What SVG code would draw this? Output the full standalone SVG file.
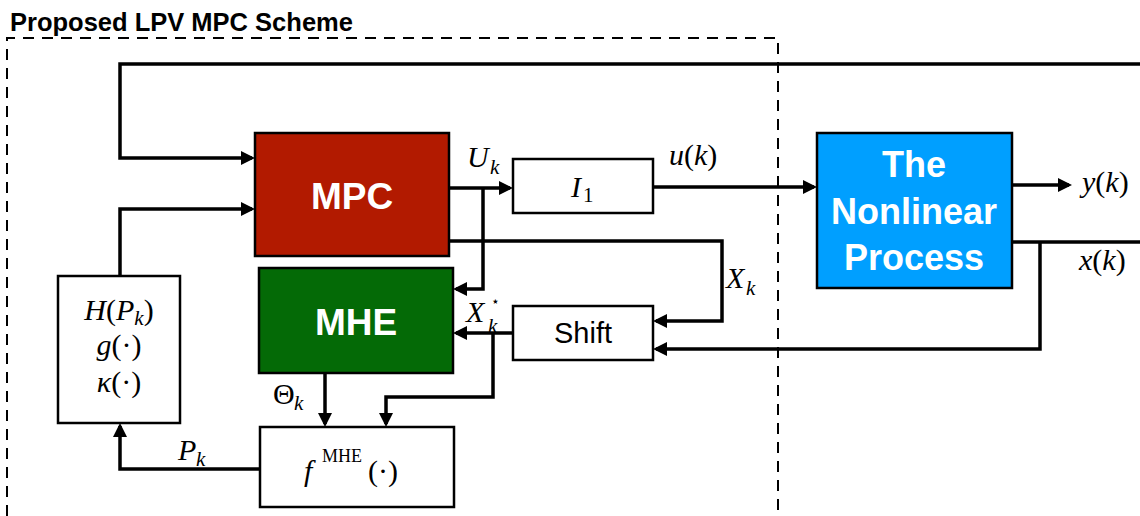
<svg xmlns="http://www.w3.org/2000/svg" width="1140" height="516" viewBox="0 0 1140 516">
<style>
.box{stroke:#000;stroke-width:2.5}
.w{fill:#fff}
.c{fill:none;stroke:#000;stroke-width:3.5}
.lbl{font-family:"Liberation Sans",Arial,sans-serif;font-weight:bold;fill:#fff;text-anchor:middle}
.m{font-family:"Liberation Serif","DejaVu Serif",serif;font-size:30px;fill:#000}
.i{font-style:italic}
.s{font-size:21px}
.sup{font-size:18px}
</style>
<defs>
<marker id="ah" markerUnits="userSpaceOnUse" markerWidth="15" markerHeight="15" refX="11" refY="7" orient="auto">
<path d="M0,0 L14,7 L0,14 z" fill="#000"/>
</marker>
</defs>
<rect width="1140" height="516" fill="#fff"/>
<g id="scheme">
<path d="M7 516 V38 H778 V516" fill="none" stroke="#000" stroke-width="2" stroke-dasharray="11 8"/>
<text x="10" y="31" font-family="Liberation Sans,Arial,sans-serif" font-weight="bold" font-size="25.5">Proposed LPV MPC Scheme</text>
</g>
<g id="connectors">
<path class="c" d="M1140 64 H120 V158 H252" marker-end="url(#ah)"/>
<path class="c" d="M120 276 V209 H252" marker-end="url(#ah)"/>
<path class="c" d="M449 188 H510" marker-end="url(#ah)"/>
<path class="c" d="M483 188 V289 H456" marker-end="url(#ah)"/>
<path class="c" d="M653 187 H814" marker-end="url(#ah)"/>
<path class="c" d="M449 241 H722 V321 H656" marker-end="url(#ah)"/>
<path class="c" d="M1012 185 H1069" marker-end="url(#ah)"/>
<path class="c" d="M1012 242 H1140"/>
<path class="c" d="M1040 242 V349 H656" marker-end="url(#ah)"/>
<path class="c" d="M513 333 H456" marker-end="url(#ah)"/>
<path class="c" d="M493 333 V397 H386 V424" marker-end="url(#ah)"/>
<path class="c" d="M325 373 V424" marker-end="url(#ah)"/>
<path class="c" d="M260 469 H120 V426" marker-end="url(#ah)"/>
</g>
<g id="mpc">
<rect class="box" x="255" y="133" width="194" height="123" fill="#B21A00"/>
<text class="lbl" x="352" y="209" font-size="37">MPC</text>
</g>
<g id="mhe">
<rect class="box" x="259" y="268" width="194" height="105" fill="#046A06"/>
<text class="lbl" x="356" y="335" font-size="37">MHE</text>
</g>
<g id="process">
<rect class="box" x="817" y="133" width="195" height="155" fill="#009FFF"/>
<text class="lbl" x="914" y="177" font-size="36">The</text>
<text class="lbl" x="914" y="224" font-size="36">Nonlinear</text>
<text class="lbl" x="914" y="270" font-size="36">Process</text>
</g>
<g id="i1">
<rect class="box w" x="513" y="159" width="140" height="54"/>
<text class="m i" x="571" y="197">I</text>
<text class="m s" x="583" y="202">1</text>
</g>
<g id="shift">
<rect class="box w" x="513" y="306" width="140" height="54"/>
<text x="583" y="343" font-family="Liberation Sans,Arial,sans-serif" font-size="29" text-anchor="middle">Shift</text>
</g>
<g id="hbox">
<rect class="box w" x="58" y="276" width="122" height="147"/>
<text class="m" x="119" y="320" text-anchor="middle"><tspan class="i">H</tspan>(<tspan class="i">P</tspan><tspan class="i s" dy="5">k</tspan><tspan dy="-5">)</tspan></text>
<text class="m" x="119" y="355" text-anchor="middle"><tspan class="i">g</tspan>(·)</text>
<text class="m" x="119" y="392" text-anchor="middle"><tspan class="i">κ</tspan>(·)</text>
</g>
<g id="fmhe">
<rect class="box w" x="260" y="427" width="194" height="80"/>
<text class="m i" x="304" y="481">f</text>
<text class="m sup" x="322" y="462">MHE</text>
<text class="m" x="368" y="481">(·)</text>
</g>
<g id="labels">
<text class="m i" x="467" y="167">U</text>
<text class="m i s" x="490" y="174">k</text>
<text class="m" x="669" y="165"><tspan class="i">u</tspan>(<tspan class="i">k</tspan>)</text>
<text class="m i" x="726" y="288">X</text>
<text class="m i s" x="746" y="295">k</text>
<text class="m i" x="466" y="322">X</text>
<text x="491" y="306" font-family="DejaVu Sans,sans-serif" font-size="14">⋆</text>
<text class="m i s" x="488" y="333">k</text>
<text class="m" x="1082" y="192"><tspan class="i">y</tspan>(<tspan class="i">k</tspan>)</text>
<text class="m" x="1079" y="270"><tspan class="i">x</tspan>(<tspan class="i">k</tspan>)</text>
<text class="m" x="273" y="404">Θ</text>
<text class="m i s" x="294" y="410">k</text>
<text class="m i" x="178" y="460">P</text>
<text class="m i s" x="196" y="466">k</text>
</g>
</svg>
